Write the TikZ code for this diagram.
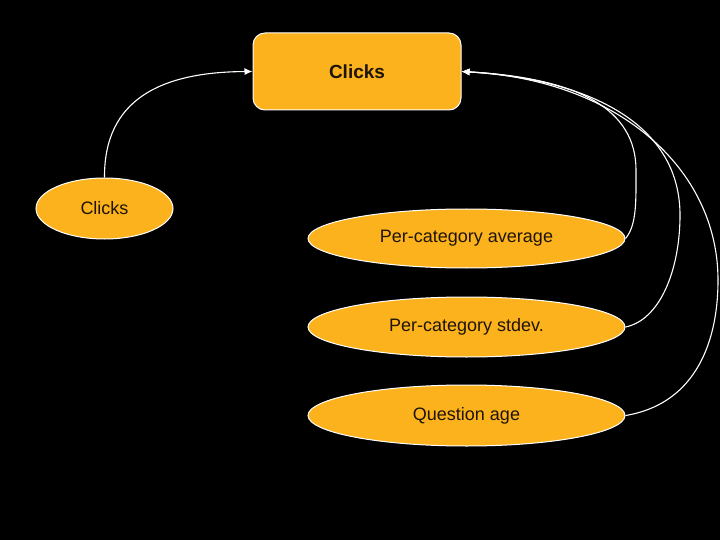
\documentclass[tikz,border=0pt]{standalone}
\usepackage{fontspec}
\setmainfont{Liberation Sans}
\usetikzlibrary{shapes.geometric,arrows.meta}
\definecolor{org}{HTML}{FCB21D}
\definecolor{ink}{HTML}{1E1408}
\tikzset{
  ov/.style={ellipse, draw=white, line width=1pt, fill=org, inner sep=0pt, text=ink, font=\fontsize{18}{20}\selectfont},
  topbox/.style={rectangle, rounded corners=12pt, draw=white, line width=1pt, fill=org, inner sep=0pt, text=ink, minimum width=208pt, minimum height=77pt, font=\bfseries\fontsize{19}{21}\selectfont},
  conn/.style={draw=white, line width=1.1pt, -{Latex[length=8pt,width=7pt]}}
}
\begin{document}
\begin{tikzpicture}[x=1pt,y=-1pt]
\fill[black] (0,0) rectangle (720,540);
\useasboundingbox (0,0) rectangle (720,540);
\node[topbox] (top) at (357,71.5) {Clicks};
\node[ov, minimum width=137pt, minimum height=61pt] (c) at (104.5,208.5) {Clicks};
\node[ov, minimum width=317pt, minimum height=59pt] (avg) at (466.5,238.5) {Per-category average};
\node[ov, minimum width=317pt, minimum height=60pt] (std) at (466.5,327) {Per-category stdev.};
\node[ov, minimum width=317pt, minimum height=61pt] (age) at (466.5,415.5) {Question age};
\draw[conn] (c.north) .. controls (104,100) and (160,72) .. (top.west);
\draw[conn] (avg.east) .. controls (637,225) and (636,200) .. (636,170) .. controls (636,110) and (580,78) .. (top.east);
\draw[conn] (std.east) .. controls (660,320) and (680,270) .. (680,215) .. controls (680,130) and (600,80) .. (top.east);
\draw[conn] (age.east) .. controls (690,405) and (718,350) .. (718,280) .. controls (718,170) and (620,80) .. (top.east);
\end{tikzpicture}
\end{document}
